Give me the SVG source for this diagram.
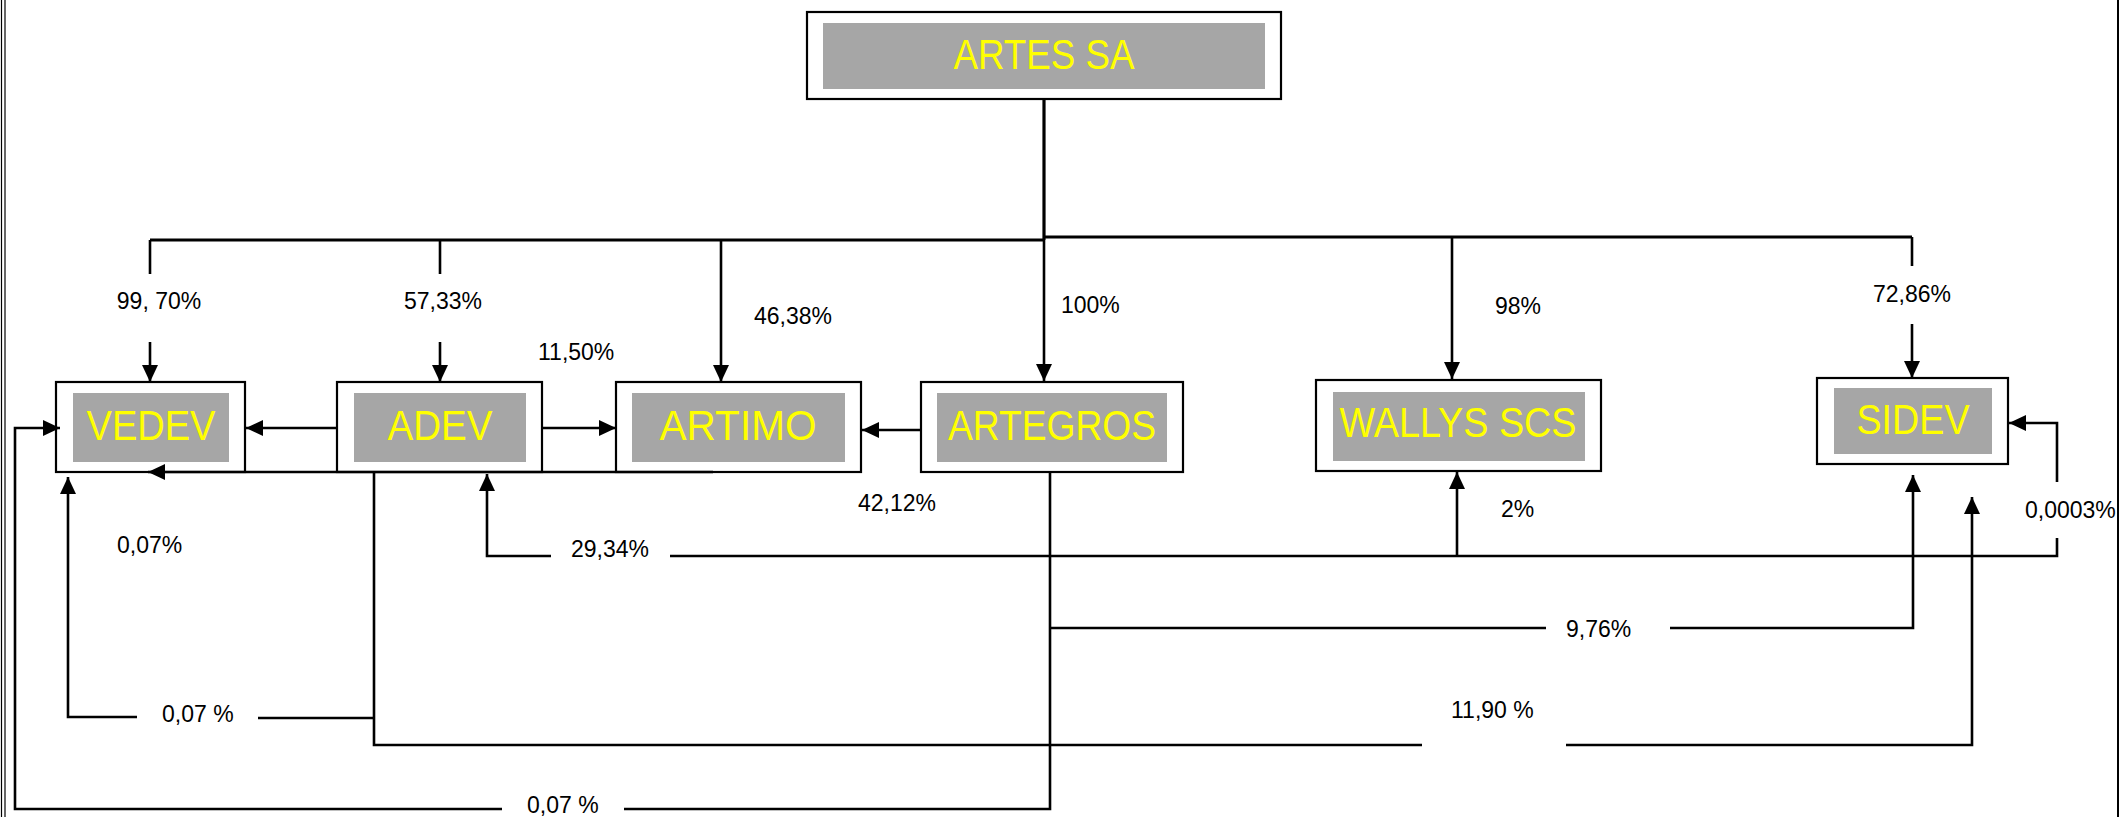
<svg xmlns="http://www.w3.org/2000/svg" width="2121" height="817" viewBox="0 0 2121 817">
<style>
.outer{fill:#fff;stroke:#000;stroke-width:2.2}
.inner{fill:#A6A6A6;stroke:none}
.name{font-family:"Liberation Sans",Arial,sans-serif;font-size:43px;fill:#FFFF00;text-anchor:middle}
.pct{font-family:"Liberation Sans",Arial,sans-serif;font-size:23px;fill:#000}
.c{fill:none;stroke:#000;stroke-width:2.6}
.bus{fill:none;stroke:#000;stroke-width:3.2}
.ar{marker-end:url(#arr)}
</style>
<defs>
<marker id="arr" markerUnits="userSpaceOnUse" markerWidth="18" markerHeight="17" refX="17" refY="8" orient="auto">
<path d="M0,0 L17,8 L0,16 Z" fill="#000"/>
</marker>
</defs>
<rect x="0" y="0" width="2121" height="817" fill="#fff"/>
<g id="border" stroke="#000" fill="none">
<line x1="1.5" y1="0" x2="1.5" y2="817" stroke-width="1.2"/>
<line x1="5" y1="0" x2="5" y2="817" stroke-width="1.2"/>
<line x1="2118" y1="0" x2="2118" y2="817" stroke-width="2"/>
</g>
<g id="artes-sa">
<rect class="outer" x="807" y="12" width="474" height="87"/>
<rect class="inner" x="823" y="23" width="442" height="66"/>
<text class="name" x="1044" y="69" textLength="181" lengthAdjust="spacingAndGlyphs">ARTES SA</text>
</g>
<g id="vedev">
<rect class="outer" x="56" y="382" width="189" height="90"/>
<rect class="inner" x="73" y="393" width="156" height="69"/>
<text class="name" x="151" y="440" textLength="129" lengthAdjust="spacingAndGlyphs">VEDEV</text>
</g>
<g id="adev">
<rect class="outer" x="337" y="382" width="205" height="90"/>
<rect class="inner" x="354" y="393" width="172" height="69"/>
<text class="name" x="440" y="440" textLength="105" lengthAdjust="spacingAndGlyphs">ADEV</text>
</g>
<g id="artimo">
<rect class="outer" x="616" y="382" width="245" height="90"/>
<rect class="inner" x="632" y="393" width="213" height="69"/>
<text class="name" x="738" y="440" textLength="157" lengthAdjust="spacingAndGlyphs">ARTIMO</text>
</g>
<g id="artegros">
<rect class="outer" x="921" y="382" width="262" height="90"/>
<rect class="inner" x="937" y="393" width="230" height="69"/>
<text class="name" x="1052" y="440" textLength="208" lengthAdjust="spacingAndGlyphs">ARTEGROS</text>
</g>
<g id="wallys-scs">
<rect class="outer" x="1316" y="380" width="285" height="91"/>
<rect class="inner" x="1333" y="392" width="252" height="69"/>
<text class="name" x="1458" y="437" textLength="237" lengthAdjust="spacingAndGlyphs">WALLYS SCS</text>
</g>
<g id="sidev">
<rect class="outer" x="1817" y="378" width="191" height="86"/>
<rect class="inner" x="1834" y="388" width="158" height="66"/>
<text class="name" x="1913" y="434" textLength="113" lengthAdjust="spacingAndGlyphs">SIDEV</text>
</g>
<g id="connectors">
<line class="bus" x1="1044" y1="99" x2="1044" y2="240"/>
<line class="bus" x1="150" y1="240" x2="1044" y2="240"/>
<line class="bus" x1="1044" y1="237" x2="1912" y2="237"/>
<polyline class="c" points="150,240 150,274"/>
<line class="c ar" x1="150" y1="342" x2="150" y2="382"/>
<polyline class="c" points="440,240 440,274"/>
<line class="c ar" x1="440" y1="342" x2="440" y2="382"/>
<line class="c ar" x1="721" y1="240" x2="721" y2="382"/>
<line class="c ar" x1="1044" y1="240" x2="1044" y2="381"/>
<line class="c ar" x1="1452" y1="237" x2="1452" y2="379"/>
<polyline class="c" points="1912,237 1912,266"/>
<line class="c ar" x1="1912" y1="324" x2="1912" y2="378"/>
<line class="c ar" x1="337" y1="428" x2="246" y2="428"/>
<line class="c ar" x1="542" y1="428" x2="616" y2="428"/>
<line class="c ar" x1="921" y1="430" x2="862" y2="430"/>
<line class="c ar" x1="713" y1="472" x2="148" y2="472"/>
<polyline class="c" points="374,472 374,745 1422,745"/>
<polyline class="c" points="374,718 258,718"/>
<polyline class="c ar" points="137,717 68,717 68,477"/>
<polyline class="c ar" points="1566,745 1972,745 1972,497"/>
<polyline class="c" points="1050,472 1050,809 624,809"/>
<polyline class="c ar" points="502,809 15,809 15,428 60,428"/>
<polyline class="c" points="1050,628 1546,628"/>
<polyline class="c ar" points="1670,628 1913,628 1913,475"/>
<polyline class="c" points="2057,538 2057,556 670,556"/>
<polyline class="c ar" points="551,556 487,556 487,474"/>
<line class="c ar" x1="1457" y1="556" x2="1457" y2="472"/>
<polyline class="c ar" points="2057,482 2057,423 2009,423"/>
</g>
<g id="labels">
<text class="pct" x="159" y="309" text-anchor="middle">99, 70%</text>
<text class="pct" x="443" y="309" text-anchor="middle">57,33%</text>
<text class="pct" x="754" y="324">46,38%</text>
<text class="pct" x="1061" y="313">100%</text>
<text class="pct" x="1495" y="314">98%</text>
<text class="pct" x="1912" y="302" text-anchor="middle">72,86%</text>
<text class="pct" x="538" y="360">11,50%</text>
<text class="pct" x="858" y="511">42,12%</text>
<text class="pct" x="117" y="553">0,07%</text>
<text class="pct" x="571" y="557">29,34%</text>
<text class="pct" x="1501" y="517">2%</text>
<text class="pct" x="2025" y="518">0,0003%</text>
<text class="pct" x="1566" y="637">9,76%</text>
<text class="pct" x="162" y="722">0,07 %</text>
<text class="pct" x="1451" y="718">11,90 %</text>
<text class="pct" x="527" y="813">0,07 %</text>
</g>
</svg>
